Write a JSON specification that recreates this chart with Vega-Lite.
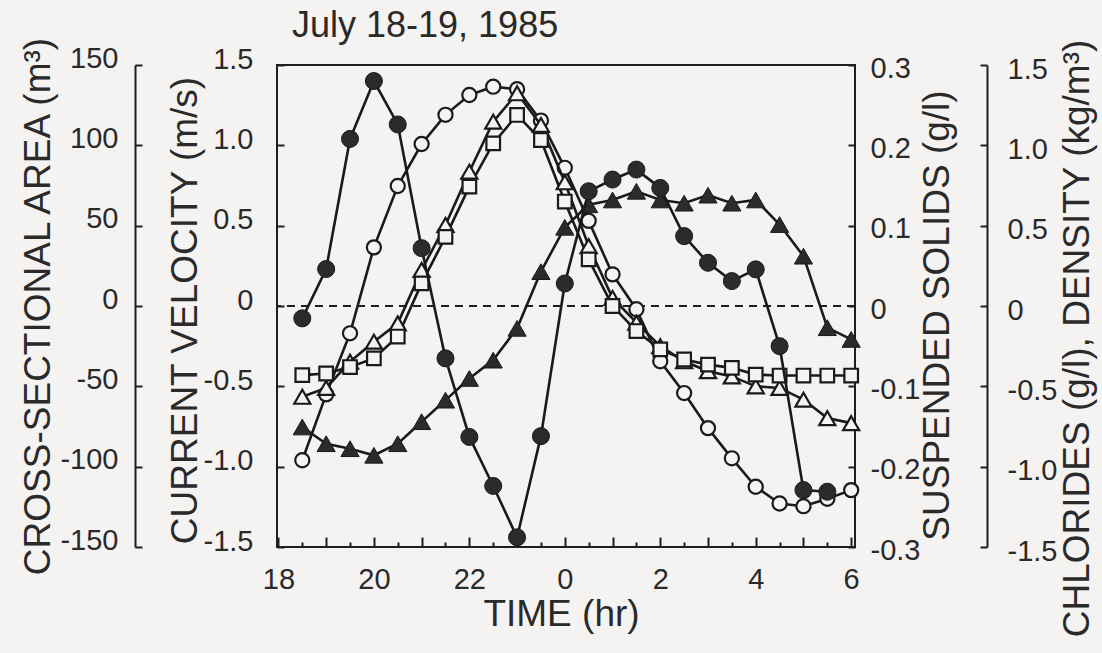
{
  "$schema": "https://vega.github.io/schema/vega-lite/v6.json",
  "width": 578,
  "height": 482,
  "autosize": "none",
  "padding": {"left": 277, "top": 65, "right": 247, "bottom": 106},
  "background": "#f5f3f2",
  "config": {
    "font": "Liberation Sans",
    "view": {"stroke": "#1e1e1e", "strokeWidth": 2},
    "axis": {
      "grid": false,
      "labelFont": "Liberation Sans",
      "labelFontSize": 29,
      "labelColor": "#2a2a2a",
      "labelFlush": false,
      "labelOverlap": false,
      "labelBound": false,
      "tickColor": "#1e1e1e",
      "tickWidth": 2,
      "domainColor": "#1e1e1e",
      "domainWidth": 2,
      "titleFont": "Liberation Sans",
      "titleFontSize": 37,
      "titleFontWeight": "normal",
      "titleColor": "#2a2a2a"
    }
  },
  "title": {
    "text": "July 18-19, 1985",
    "anchor": "start",
    "frame": "group",
    "fontSize": 36,
    "font": "Liberation Sans",
    "fontWeight": "normal",
    "color": "#2a2a2a",
    "offset": 2,
    "baseline": "alphabetic",
    "dx": 15,
    "dy": 40
  },
  "datasets": {
    "d": [
      {"t": 18.5, "s": "A", "v": -96}, {"t": 19.0, "s": "A", "v": -55}, {"t": 19.5, "s": "A", "v": -17}, {"t": 20.0, "s": "A", "v": 36.5},
      {"t": 20.5, "s": "A", "v": 74.7}, {"t": 21.0, "s": "A", "v": 100.8}, {"t": 21.5, "s": "A", "v": 119}, {"t": 22.0, "s": "A", "v": 131.3},
      {"t": 22.5, "s": "A", "v": 136.5}, {"t": 23.0, "s": "A", "v": 134.9}, {"t": 23.5, "s": "A", "v": 115.4}, {"t": 24.0, "s": "A", "v": 86},
      {"t": 24.5, "s": "A", "v": 53}, {"t": 25.0, "s": "A", "v": 19.7}, {"t": 25.5, "s": "A", "v": -2}, {"t": 26.0, "s": "A", "v": -34.4},
      {"t": 26.5, "s": "A", "v": -54.2}, {"t": 27.0, "s": "A", "v": -76}, {"t": 27.5, "s": "A", "v": -94.8}, {"t": 28.0, "s": "A", "v": -112.5},
      {"t": 28.5, "s": "A", "v": -122.9}, {"t": 29.0, "s": "A", "v": -124.6}, {"t": 29.5, "s": "A", "v": -120}, {"t": 30.0, "s": "A", "v": -114.6},

      {"t": 18.5, "s": "V", "v": -0.077}, {"t": 19.0, "s": "V", "v": 0.23}, {"t": 19.5, "s": "V", "v": 1.04}, {"t": 20.0, "s": "V", "v": 1.40},
      {"t": 20.5, "s": "V", "v": 1.13}, {"t": 21.0, "s": "V", "v": 0.36}, {"t": 21.5, "s": "V", "v": -0.326}, {"t": 22.0, "s": "V", "v": -0.815},
      {"t": 22.5, "s": "V", "v": -1.12}, {"t": 23.0, "s": "V", "v": -1.44}, {"t": 23.5, "s": "V", "v": -0.81}, {"t": 24.0, "s": "V", "v": 0.14},
      {"t": 24.5, "s": "V", "v": 0.714}, {"t": 25.0, "s": "V", "v": 0.787}, {"t": 25.5, "s": "V", "v": 0.849}, {"t": 26.0, "s": "V", "v": 0.735},
      {"t": 26.5, "s": "V", "v": 0.435}, {"t": 27.0, "s": "V", "v": 0.269}, {"t": 27.5, "s": "V", "v": 0.155}, {"t": 28.0, "s": "V", "v": 0.228},
      {"t": 28.5, "s": "V", "v": -0.25}, {"t": 29.0, "s": "V", "v": -1.146}, {"t": 29.5, "s": "V", "v": -1.156},

      {"t": 18.5, "s": "S", "v": -0.1506}, {"t": 19.0, "s": "S", "v": -0.1714}, {"t": 19.5, "s": "S", "v": -0.1776}, {"t": 20.0, "s": "S", "v": -0.1858},
      {"t": 20.5, "s": "S", "v": -0.1714}, {"t": 21.0, "s": "S", "v": -0.144}, {"t": 21.5, "s": "S", "v": -0.1172}, {"t": 22.0, "s": "S", "v": -0.0902},
      {"t": 22.5, "s": "S", "v": -0.0674}, {"t": 23.0, "s": "S", "v": -0.0278}, {"t": 23.5, "s": "S", "v": 0.0428}, {"t": 24.0, "s": "S", "v": 0.098},
      {"t": 24.5, "s": "S", "v": 0.126}, {"t": 25.0, "s": "S", "v": 0.132}, {"t": 25.5, "s": "S", "v": 0.1428}, {"t": 26.0, "s": "S", "v": 0.132},
      {"t": 26.5, "s": "S", "v": 0.128}, {"t": 27.0, "s": "S", "v": 0.138}, {"t": 27.5, "s": "S", "v": 0.128}, {"t": 28.0, "s": "S", "v": 0.132},
      {"t": 28.5, "s": "S", "v": 0.1014}, {"t": 29.0, "s": "S", "v": 0.062}, {"t": 29.5, "s": "S", "v": -0.027}, {"t": 30.0, "s": "S", "v": -0.0416},

      {"t": 18.5, "s": "C", "v": -0.565}, {"t": 19.0, "s": "C", "v": -0.51}, {"t": 19.5, "s": "C", "v": -0.347}, {"t": 20.0, "s": "C", "v": -0.222},
      {"t": 20.5, "s": "C", "v": -0.108}, {"t": 21.0, "s": "C", "v": 0.224}, {"t": 21.5, "s": "C", "v": 0.504}, {"t": 22.0, "s": "C", "v": 0.836},
      {"t": 22.5, "s": "C", "v": 1.147}, {"t": 23.0, "s": "C", "v": 1.324}, {"t": 23.5, "s": "C", "v": 1.127}, {"t": 24.0, "s": "C", "v": 0.77},
      {"t": 24.5, "s": "C", "v": 0.373}, {"t": 25.0, "s": "C", "v": 0.05}, {"t": 25.5, "s": "C", "v": -0.104}, {"t": 26.0, "s": "C", "v": -0.25},
      {"t": 26.5, "s": "C", "v": -0.344}, {"t": 27.0, "s": "C", "v": -0.406}, {"t": 27.5, "s": "C", "v": -0.438}, {"t": 28.0, "s": "C", "v": -0.5},
      {"t": 28.5, "s": "C", "v": -0.51}, {"t": 29.0, "s": "C", "v": -0.583}, {"t": 29.5, "s": "C", "v": -0.698}, {"t": 30.0, "s": "C", "v": -0.729},

      {"t": 18.5, "s": "D", "v": -0.43}, {"t": 19.0, "s": "D", "v": -0.42}, {"t": 19.5, "s": "D", "v": -0.38}, {"t": 20.0, "s": "D", "v": -0.326},
      {"t": 20.5, "s": "D", "v": -0.19}, {"t": 21.0, "s": "D", "v": 0.141}, {"t": 21.5, "s": "D", "v": 0.43}, {"t": 22.0, "s": "D", "v": 0.743},
      {"t": 22.5, "s": "D", "v": 1.012}, {"t": 23.0, "s": "D", "v": 1.189}, {"t": 23.5, "s": "D", "v": 1.033}, {"t": 24.0, "s": "D", "v": 0.65},
      {"t": 24.5, "s": "D", "v": 0.29}, {"t": 25.0, "s": "D", "v": 0.0}, {"t": 25.5, "s": "D", "v": -0.156}, {"t": 26.0, "s": "D", "v": -0.27},
      {"t": 26.5, "s": "D", "v": -0.333}, {"t": 27.0, "s": "D", "v": -0.365}, {"t": 27.5, "s": "D", "v": -0.385}, {"t": 28.0, "s": "D", "v": -0.427},
      {"t": 28.5, "s": "D", "v": -0.433}, {"t": 29.0, "s": "D", "v": -0.433}, {"t": 29.5, "s": "D", "v": -0.433}, {"t": 30.0, "s": "D", "v": -0.433}
    ]
  },
  "data": {"name": "d"},
  "layer": [
    {
      "transform": [{"filter": "datum.s === 'A'"}],
      "encoding": {
        "x": {"field": "t", "type": "quantitative", "scale": {"domain": [17.97, 30.08], "nice": false, "zero": false}, "axis": null}
      },
      "layer": [
        {
          "mark": {"type": "rule", "strokeDash": [8, 6], "strokeWidth": 2.2, "color": "#1e1e1e"},
          "encoding": {"x": null, "y": {"datum": 0, "type": "quantitative", "scale": {"domain": [-150, 150], "nice": false, "zero": false}, "axis": null}}
        },
        {
          "mark": {"type": "line", "color": "#1a1a1a", "strokeWidth": 2.6},
          "encoding": {
            "y": {
              "field": "v", "type": "quantitative",
              "scale": {"domain": [-150, 150], "nice": false, "zero": false},
              "axis": {
                "orient": "left", "offset": 142, "domain": true,
                "values": [-150, -100, -50, 0, 50, 100, 150],
                "tickSize": 0, "labelPadding": 17, "labelOffset": -7,
                "labelExpr": "datum.value === 0 ? '0' : (datum.value < 0 ? '-' : '') + format(abs(datum.value), 'd')",
                "title": "CROSS-SECTIONAL AREA (m³)",
                "titleAngle": 270, "titleAlign": "center", "titleBaseline": "middle",
                "titleX": -97, "titleY": 241
              }
            }
          }
        },
        {
          "mark": {"type": "point", "shape": "circle", "filled": true, "fill": "#f5f3f2", "stroke": "#1a1a1a", "strokeWidth": 2.2, "size": 200, "opacity": 1},
          "encoding": {
            "y": {
              "field": "v", "type": "quantitative",
              "scale": {"domain": [-150, 150], "nice": false, "zero": false},
              "axis": {
                "orient": "left", "offset": 135, "domain": false,
                "values": [-150, -100, -50, 0, 50, 100, 150],
                "tickSize": 7, "labels": false, "title": null
              }
            }
          }
        }
      ],
      "resolve": {"axis": {"y": "independent"}}
    },
    {
      "transform": [{"filter": "datum.s === 'C' || datum.s === 'D'"}],
      "encoding": {
        "x": {
          "field": "t", "type": "quantitative", "scale": {"domain": [17.97, 30.08], "nice": false, "zero": false},
          "axis": {
            "orient": "bottom", "offset": -10,
            "values": [18, 19, 20, 21, 22, 23, 24, 25, 26, 27, 28, 29, 30],
            "domain": false, "tickSize": 10, "labelPadding": 18,
            "labelExpr": "datum.value % 2 === 0 ? '' + (datum.value % 24) : ''",
            "title": "TIME (hr)", "titleX": 284, "titleY": 88, "titleBaseline": "alphabetic", "titleAlign": "center"
          }
        }
      },
      "layer": [
        {
          "mark": {"type": "line", "color": "#1a1a1a", "strokeWidth": 2.6},
          "encoding": {
            "detail": {"field": "s"},
            "y": {
              "field": "v", "type": "quantitative",
              "scale": {"domain": [-1.5, 1.5], "nice": false, "zero": false},
              "axis": {
                "orient": "right", "offset": 132, "domain": true,
                "values": [-1.5, -1, -0.5, 0, 0.5, 1, 1.5],
                "tickSize": 0, "labelPadding": 20, "labelOffset": 4,
                "labelExpr": "datum.value === 0 ? '0' : (datum.value < 0 ? '-' : '') + format(abs(datum.value), '.1f')",
                "title": "CHLORIDES (g/l), DENSITY (kg/m³)",
                "titleAngle": 270, "titleAlign": "center", "titleBaseline": "middle",
                "titleX": 90, "titleY": 273
              }
            }
          }
        },
        {
          "transform": [{"filter": "datum.s === 'C'"}],
          "mark": {"type": "point", "shape": "triangle-up", "filled": true, "fill": "#f5f3f2", "stroke": "#1a1a1a", "strokeWidth": 2.2, "size": 260, "opacity": 1},
          "encoding": {
            "y": {
              "field": "v", "type": "quantitative",
              "scale": {"domain": [-1.5, 1.5], "nice": false, "zero": false},
              "axis": {
                "orient": "right", "offset": 125, "domain": false,
                "values": [-1.5, -1, -0.5, 0, 0.5, 1, 1.5],
                "tickSize": 7, "labels": false, "title": null
              }
            }
          }
        },
        {
          "transform": [{"filter": "datum.s === 'D'"}],
          "mark": {"type": "point", "shape": "square", "filled": true, "fill": "#f5f3f2", "stroke": "#1a1a1a", "strokeWidth": 2.2, "size": 185, "opacity": 1},
          "encoding": {
            "y": {
              "field": "v", "type": "quantitative",
              "scale": {"domain": [-1.5, 1.5], "nice": false, "zero": false},
              "axis": null
            }
          }
        }
      ],
      "resolve": {"axis": {"y": "independent"}}
    },
    {
      "transform": [{"filter": "datum.s === 'S'"}],
      "encoding": {
        "x": {
          "field": "t", "type": "quantitative", "scale": {"domain": [17.97, 30.08], "nice": false, "zero": false},
          "axis": {
            "orient": "bottom", "offset": -5,
            "values": [18.5, 19.5, 20.5, 21.5, 22.5, 23.5, 24.5, 25.5, 26.5, 27.5, 28.5, 29.5],
            "domain": false, "tickSize": 5, "labels": false, "title": null
          }
        },
        "y": {
          "field": "v", "type": "quantitative",
          "scale": {"domain": [-0.3, 0.3], "nice": false, "zero": false},
          "axis": {
            "orient": "right", "offset": -7, "domain": false,
            "values": [-0.3, -0.2, -0.1, 0, 0.1, 0.2, 0.3],
            "tickSize": 7, "labelPadding": 15, "labelOffset": 3,
            "labelExpr": "datum.value === 0 ? '0' : (datum.value < 0 ? '-' : '') + format(abs(datum.value), '.1f')",
            "title": "SUSPENDED SOLIDS (g/l)",
            "titleAngle": 270, "titleAlign": "center", "titleBaseline": "middle",
            "titleX": 89, "titleY": 250
          }
        }
      },
      "layer": [
        {"mark": {"type": "line", "color": "#1a1a1a", "strokeWidth": 2.6}},
        {"mark": {"type": "point", "shape": "triangle-up", "filled": true, "fill": "#2b2b2b", "stroke": "#1a1a1a", "strokeWidth": 1, "size": 330, "opacity": 1}}
      ]
    },
    {
      "transform": [{"filter": "datum.s === 'V'"}],
      "encoding": {
        "x": {"field": "t", "type": "quantitative", "scale": {"domain": [17.97, 30.08], "nice": false, "zero": false}, "axis": null},
        "y": {
          "field": "v", "type": "quantitative",
          "scale": {"domain": [-1.5, 1.5], "nice": false, "zero": false},
          "axis": {
            "orient": "left", "offset": -7, "domain": false,
            "values": [-1.5, -1, -0.5, 0, 0.5, 1, 1.5],
            "tickSize": 7, "labelPadding": 24, "labelOffset": -6,
            "labelExpr": "datum.value === 0 ? '0' : (datum.value < 0 ? '-' : '') + format(abs(datum.value), '.1f')",
            "title": "CURRENT VELOCITY (m/s)",
            "titleAngle": 270, "titleAlign": "center", "titleBaseline": "middle",
            "titleX": -99, "titleY": 245
          }
        }
      },
      "layer": [
        {"mark": {"type": "line", "color": "#1a1a1a", "strokeWidth": 2.6}},
        {"mark": {"type": "point", "shape": "circle", "filled": true, "fill": "#2b2b2b", "stroke": "#1a1a1a", "strokeWidth": 1, "size": 290, "opacity": 1}}
      ]
    }
  ],
  "resolve": {"scale": {"y": "independent"}, "axis": {"x": "independent"}}
}
